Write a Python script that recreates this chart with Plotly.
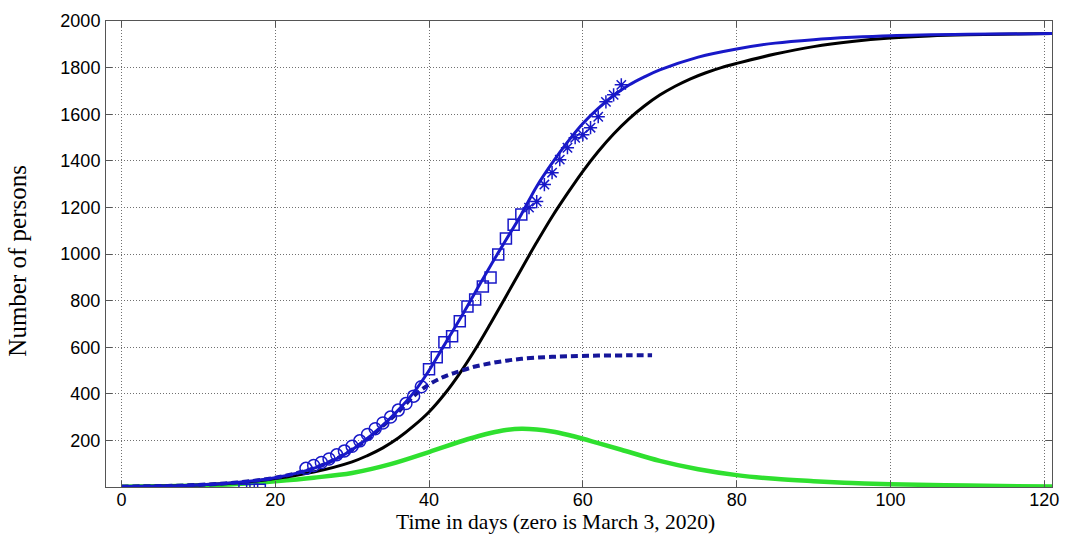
import plotly.graph_objects as go

# ---- data ----
black_x = [0, 5, 10, 15, 20, 25, 30, 32, 34, 36, 38, 40, 42, 44, 46, 48, 50, 52, 54, 56, 58,
           60, 62, 64, 66, 68, 70, 72, 74, 76, 78, 80, 85, 90, 95, 100, 105, 110, 121]
black_y = [2, 4, 9, 18, 36, 64, 108, 135, 168, 210, 262, 322, 398, 488, 590, 702, 818, 935,
           1050, 1160, 1260, 1355, 1440, 1515, 1580, 1635, 1682, 1720, 1752, 1778, 1800, 1818,
           1858, 1890, 1912, 1927, 1936, 1941, 1946]

blue_x = [0, 5, 10, 15, 20, 25, 28, 30, 32, 34, 36, 38, 40, 42, 44, 46, 48, 50, 52, 54, 56,
          58, 60, 62, 64, 66, 68, 70, 75, 80, 85, 90, 95, 100, 110, 121]
blue_y = [2, 4, 9, 19, 40, 80, 122, 160, 208, 265, 330, 405, 500, 610, 720, 835, 950, 1060,
          1170, 1290, 1390, 1480, 1560, 1625, 1680, 1725, 1760, 1790, 1845, 1880, 1905, 1920,
          1930, 1937, 1943, 1946]

dash_x = [0, 5, 10, 15, 20, 25, 28, 30, 32, 34, 36, 38, 40, 42, 44, 46, 48, 50, 52, 55, 58,
          62, 66, 69]
dash_y = [2, 4, 9, 19, 40, 80, 122, 160, 206, 262, 322, 390, 440, 474, 497, 517, 531, 542,
          550, 557, 561, 564, 565, 565]

green_x = [0, 5, 10, 15, 20, 25, 30, 35, 40, 45, 48, 50, 52, 54, 56, 58, 60, 62, 65, 70, 75,
           80, 85, 90, 95, 100, 110, 121]
green_y = [1, 3, 6, 13, 25, 40, 60, 98, 150, 205, 232, 245, 250, 247, 238, 224, 207, 188, 160,
           112, 76, 51, 35, 25, 17, 12, 6, 2]

circ_x = [24, 25, 26, 27, 28, 29, 30, 31, 32, 33, 34, 35, 36, 37, 38, 39]
circ_y = [80, 92, 105, 120, 138, 155, 175, 198, 225, 250, 275, 300, 330, 358, 390, 430]

sq_x = [40, 41, 42, 43, 44, 45, 46, 47, 48, 49, 50, 51, 52]
sq_y = [505, 557, 621, 647, 711, 775, 805, 861, 899, 998, 1066, 1126, 1169]

ast_x = [53, 54, 55, 56, 57, 58, 59, 60, 61, 62, 63, 64, 65]
ast_y = [1199, 1225, 1298, 1349, 1405, 1456, 1499, 1512, 1542, 1589, 1653, 1683, 1726]

low_x = [16, 17, 18]
low_y = [-12, -12, -12]

x_ticks = [0, 20, 40, 60, 80, 100, 120]
y_ticks = [200, 400, 600, 800, 1000, 1200, 1400, 1600, 1800, 2000]

BLUE = "#1818c8"
DBLUE = "#16169a"
GREEN = "#2fe02f"

fig = go.Figure()
fig.add_trace(go.Scatter(x=green_x, y=green_y, mode="lines", line=dict(color=GREEN, width=4.5, shape="spline")))
fig.add_trace(go.Scatter(x=black_x, y=black_y, mode="lines", line=dict(color="black", width=3, shape="spline")))
fig.add_trace(go.Scatter(x=dash_x, y=dash_y, mode="lines", line=dict(color=DBLUE, width=4, dash="7px,4px", shape="spline")))
fig.add_trace(go.Scatter(x=blue_x, y=blue_y, mode="lines", line=dict(color=BLUE, width=3, shape="spline")))
fig.add_trace(go.Scatter(x=circ_x, y=circ_y, mode="markers",
                         marker=dict(symbol="circle-open", size=12, color=BLUE, line=dict(width=1.5, color=BLUE))))
fig.add_trace(go.Scatter(x=sq_x, y=sq_y, mode="markers",
                         marker=dict(symbol="square-open", size=11, color=BLUE, line=dict(width=1.5, color=BLUE))))
fig.add_trace(go.Scatter(x=ast_x, y=ast_y, mode="markers",
                         marker=dict(symbol="asterisk-open", size=11, color=BLUE, line=dict(width=1.5, color=BLUE))))
fig.add_trace(go.Scatter(x=low_x, y=low_y, mode="markers",
                         marker=dict(symbol="square-open", size=11, color=BLUE, line=dict(width=1.5, color=BLUE))))

axis_common = dict(
    showline=True, linecolor="#555555", linewidth=1, mirror="ticks",
    ticks="inside", ticklen=6, tickcolor="#555555", tickwidth=1,
    showgrid=True, gridcolor="#707070", gridwidth=1, griddash="1px,2px",
    zeroline=False,
    tickfont=dict(family="Liberation Sans, Arial", size=18, color="black"),
)

fig.update_layout(
    width=1068, height=543,
    margin=dict(l=106, r=9, t=21, b=56),
    paper_bgcolor="white", plot_bgcolor="white",
    showlegend=False,
    xaxis=dict(range=[-2, 121], tickvals=x_ticks, ticktext=[str(v) for v in x_ticks],
               ticklabelstandoff=-4, **axis_common),
    yaxis=dict(range=[0, 2000], tickvals=y_ticks, ticktext=[str(v) for v in y_ticks],
               ticklabelstandoff=1, **axis_common),
    annotations=[
        dict(text="Time in days (zero is March 3, 2020)", xref="paper", yref="paper",
             x=0.475, y=-0.075, xanchor="center", yanchor="middle", showarrow=False,
             font=dict(family="Liberation Serif, Times New Roman", size=21.5, color="black")),
        dict(text="Number of persons", xref="paper", yref="paper",
             x=-0.0934, y=0.485, xanchor="center", yanchor="middle", showarrow=False, textangle=-90,
             font=dict(family="Liberation Serif, Times New Roman", size=25, color="black")),
    ],
)

fig.write_html("out.html")
